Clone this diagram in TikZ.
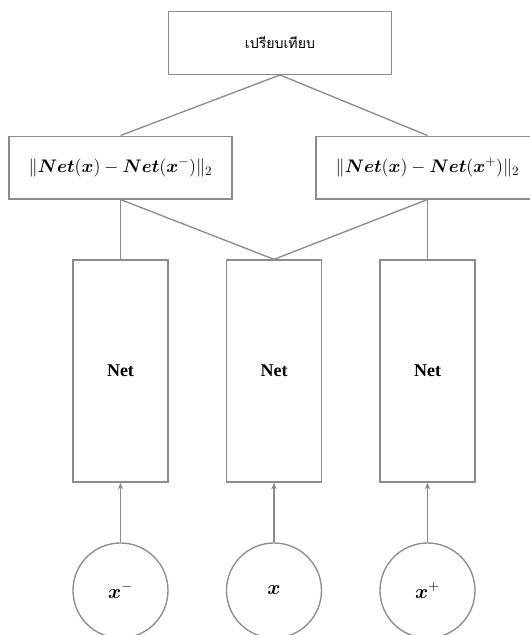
\RequirePackage{fix-cm}
\documentclass[tikz,border=0pt]{standalone}
\usepackage{amsmath}
\usepackage{fontspec}
\setmainfont{Liberation Serif}
\newfontfamily\thaifont[Script=Thai]{Loma}
\usetikzlibrary{arrows.meta}
\definecolor{linegray}{RGB}{140,140,140}
\begin{document}
\begin{tikzpicture}[x=0.75pt,y=-0.75pt,
  box/.style={draw=linegray,line width=1pt,inner sep=0pt,minimum width=167.25pt,minimum height=47pt,font=\fontsize{13.6}{16}\selectfont},
  netbox/.style={draw=linegray,line width=1pt,inner sep=0pt,minimum width=71.25pt,minimum height=166.5pt,font=\fontsize{13.5}{16}\selectfont\bfseries},
  inp/.style={circle,draw=linegray,line width=1pt,inner sep=0pt,minimum size=71.25pt,font=\fontsize{15}{18}\selectfont},
  link/.style={draw=linegray,line width=1pt},
  arr/.style={link,-{Stealth[length=5pt,width=4pt]}}]
\useasboundingbox (0,0) rectangle (529,635);
\node[box,font=\thaifont\fontsize{10.6}{14}\selectfont] (cmp) at (280,43) {เปรียบเทียบ};
\node[box] (dneg) at (120.5,167.5) {$\|\boldsymbol{Net}(\boldsymbol{x}) - \boldsymbol{Net}(\boldsymbol{x}^{-})\|_2$};
\node[box] (dpos) at (427.5,167.5) {$\|\boldsymbol{Net}(\boldsymbol{x}) - \boldsymbol{Net}(\boldsymbol{x}^{+})\|_2$};
\node[netbox] (n1) at (120.5,371) {Net};
\node[netbox] (n2) at (274,371) {Net};
\node[netbox] (n3) at (427.5,371) {Net};
\node[inp] (c1) at (120.5,590.5) {$\boldsymbol{x}^{-}$};
\node[inp] (c2) at (274,590.5) {$\boldsymbol{x}$};
\node[inp] (c3) at (427.5,590.5) {$\boldsymbol{x}^{+}$};
\draw[link] (cmp.south) -- (dneg.north);
\draw[link] (cmp.south) -- (dpos.north);
\draw[link] (dneg.south) -- (n1.north);
\draw[link] (dneg.south) -- (n2.north);
\draw[link] (dpos.south) -- (n2.north);
\draw[link] (dpos.south) -- (n3.north);
\draw[arr] (c1.north) -- (n1.south);
\draw[arr] (c2.north) -- (n2.south);
\draw[arr] (c3.north) -- (n3.south);
\end{tikzpicture}
\end{document}
